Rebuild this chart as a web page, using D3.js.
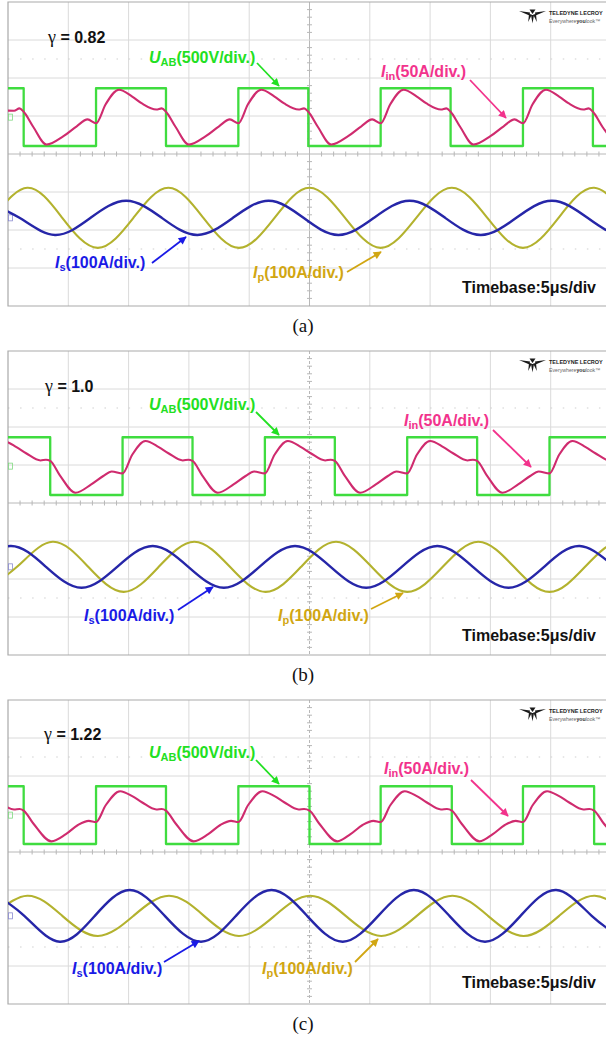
<!DOCTYPE html>
<html>
<head>
<meta charset="utf-8">
<script src="https://cdn.jsdelivr.net/npm/d3@7"></script>
<style>
  html, body { margin: 0; padding: 0; background: #ffffff; }
  svg { display: block; }
</style>
</head>
<body>
<svg id="chart" width="606" height="1040"></svg>
<script>
// ---------------------------------------------------------------
// Measured traces: time in microseconds, U_AB in volts, currents in amperes.
// ---------------------------------------------------------------
const gammaLabels = ["0.82", "1.0", "1.22"];
const captions = ["(a)", "(b)", "(c)"];
const timebaseLabel = "Timebase:5\u03bcs/div";

// U_AB switching instants (level held until the next point)
const uabA = [[-1, 380], [1.3, -380], [7.3, 380], [13.1, -380], [19.1, 380], [24.9, -380], [30.9, 380], [36.7, -380], [42.7, 380], [48.5, -380], [51, -380]];
const uabB = [[-1, 380], [3.5, -380], [9.5, 380], [15.3, -380], [21.3, 380], [27.1, -380], [33.1, 380], [38.9, -380], [44.9, 380], [51, 380]];
const uabC = [[-1, 380], [1.3, -380], [7.3, 380], [13.1, -380], [19.1, 380], [25.0, -380], [30.9, 380], [36.8, -380], [42.7, 380], [48.6, -380], [51, -380]];

// Input current I_in
const iinA = [[-0.8, 9], [0.5, 8.5], [0.95, 11.5], [1.3, 7],
  [2.1, -13], [3.2, -36], [4.6, -25], [5.7, -12], [6.6, -3], [7.3, -8],
  [8.1, 17], [9.2, 36], [10.3, 27], [11.1, 18], [12.3, 10], [12.75, 11.5], [13.1, 7],
  [13.9, -13], [15.0, -36], [16.4, -25], [17.5, -12], [18.4, -3], [19.1, -8],
  [19.9, 17], [21.0, 36], [22.1, 27], [22.9, 18], [24.1, 10], [24.55, 11.5], [24.9, 7],
  [25.7, -13], [26.8, -36], [28.2, -25], [29.3, -12], [30.2, -3], [30.9, -8],
  [31.7, 17], [32.8, 36], [33.9, 27], [34.7, 18], [35.9, 10], [36.35, 11.5], [36.7, 7],
  [37.5, -13], [38.6, -36], [40.0, -25], [41.1, -12], [42.0, -3], [42.7, -8],
  [43.5, 17], [44.6, 36], [45.7, 27], [46.5, 18], [47.7, 10], [48.15, 11.5], [48.5, 7],
  [49.3, -13], [50.4, -36]];
const iinB = [[-2.3, -9.5], [-1.5, 15], [-0.4, 33], [0.7, 25], [1.5, 17], [2.7, 7.5], [3.15, 8.5], [3.5, 7],
  [4.3, -12], [5.6, -35], [6.9, -24], [7.9, -13], [8.6, -7], [9.5, -9.5],
  [10.3, 15], [11.4, 33], [12.5, 25], [13.3, 17], [14.5, 7.5], [14.95, 8.5], [15.3, 7],
  [16.1, -12], [17.4, -35], [18.7, -24], [19.7, -13], [20.4, -7], [21.3, -9.5],
  [22.1, 15], [23.2, 33], [24.3, 25], [25.1, 17], [26.3, 7.5], [26.75, 8.5], [27.1, 7],
  [27.9, -12], [29.2, -35], [30.5, -24], [31.5, -13], [32.2, -7], [33.1, -9.5],
  [33.9, 15], [35.0, 33], [36.1, 25], [36.9, 17], [38.1, 7.5], [38.55, 8.5], [38.9, 7],
  [39.7, -12], [41.0, -35], [42.3, -24], [43.3, -13], [44.0, -7], [44.9, -9.5],
  [45.7, 15], [46.8, 33], [47.9, 25], [48.7, 17], [49.9, 7.5], [50.35, 8.5], [50.7, 7]];
const iinC = [[-0.7, 17], [0.5, 7.5], [0.95, 8], [1.3, 6],
  [2.1, -11], [3.6, -34.5], [4.8, -25], [5.8, -13], [6.7, -7.5], [7.3, -9],
  [8.1, 13], [9.3, 31.5], [10.3, 25], [11.1, 17], [12.3, 7.5], [12.75, 8], [13.1, 6],
  [13.9, -11], [15.4, -34.5], [16.6, -25], [17.6, -13], [18.5, -7.5], [19.1, -9],
  [19.9, 13], [21.1, 31.5], [22.1, 25], [22.9, 17], [24.1, 7.5], [24.55, 8], [25.0, 6],
  [25.8, -11], [27.3, -34.5], [28.4, -25], [29.4, -13], [30.3, -7.5], [30.9, -9],
  [31.7, 13], [32.9, 31.5], [33.9, 25], [34.7, 17], [35.9, 7.5], [36.4, 8], [36.8, 6],
  [37.6, -11], [39.1, -34.5], [40.2, -25], [41.2, -13], [42.1, -7.5], [42.7, -9],
  [43.5, 13], [44.7, 31.5], [45.7, 25], [46.5, 17], [47.7, 7.5], [48.2, 8], [48.6, 6],
  [49.4, -11], [50.9, -34.5]];

// Secondary current I_s (peaks, zero crossings, troughs)
const isA = [[-2.0, 45], [0.95, 0], [3.9, -45], [6.85, 0], [9.8, 45], [12.75, 0], [15.7, -45], [18.65, 0],
  [21.6, 45], [24.5, 0], [27.4, -45], [30.35, 0], [33.3, 45], [36.25, 0], [39.2, -45], [42.15, 0],
  [45.1, 45], [48.05, 0], [51.0, -45], [53.95, 0]];
const isB = [[-5.7, -55], [-2.75, 0], [0.2, 55], [3.15, 0], [6.1, -55], [9.05, 0], [12.0, 55], [14.95, 0],
  [17.9, -55], [20.85, 0], [23.8, 55], [26.75, 0], [29.7, -55], [32.65, 0], [35.6, 55], [38.55, 0],
  [41.5, -55], [44.45, 0], [47.4, 55], [50.35, 0], [53.3, -55]];
const isC = [[-1.6, 68], [1.35, 0], [4.3, -68], [7.2, 0], [10.1, 68], [13.0, 0], [16.0, -68], [18.9, 0],
  [21.85, 68], [24.8, 0], [27.75, -68], [30.7, 0], [33.65, 68], [36.6, 0], [39.55, -68], [42.5, 0],
  [45.45, 68], [48.4, 0], [51.35, -68]];

// Primary current I_p
const ipA = [[-4.3, -79], [-1.35, 0], [1.6, 79], [4.5, 0], [7.45, -79], [10.4, 0], [13.3, 79], [16.2, 0],
  [19.15, -79], [22.1, 0], [25.0, 79], [27.95, 0], [30.9, -79], [33.85, 0], [36.8, 79], [39.75, 0],
  [42.7, -79], [45.65, 0], [48.6, 79], [51.55, 0], [54.5, -79]];
const ipB = [[-2.2, -66], [0.75, 0], [3.7, 66], [6.65, 0], [9.6, -66], [12.5, 0], [15.45, 66], [18.4, 0],
  [21.35, -66], [24.3, 0], [27.2, 66], [30.15, 0], [33.1, -66], [36.05, 0], [39.0, 66], [41.95, 0],
  [44.9, -66], [47.85, 0], [50.8, 66], [53.75, 0]];
const ipC = [[-4.3, -53], [-1.35, 0], [1.6, 53], [4.5, 0], [7.45, -53], [10.4, 0], [13.35, 53], [16.25, 0],
  [19.15, -53], [22.1, 0], [25.05, 53], [28.0, 0], [30.95, -53], [33.9, 0], [36.85, 53], [39.8, 0],
  [42.75, -53], [45.7, 0], [48.65, 53], [51.6, 0], [54.55, -53]];

// Vertical sensitivities (units per division) and channel offsets (divisions)
const uabPerDiv = 500, iinPerDiv = 50, isPerDiv = 100, ipPerDiv = 100;
const upperOffset = 0.97, lowerOffset = -1.68;

// ---------------------------------------------------------------
// Layout
// ---------------------------------------------------------------
const panelTops = [2, 351, 700];
const panelH = 304;           // 8 divisions
const screenLeft = 8, screenRight = 611;   // 10 divisions, right edge runs off the page
const layouts = [
  { gamma: [48, 41], uab: [149, 61], iin: [381, 75], is: [55, 266], ip: [253, 276], tb: [462, 291],
    aUab: [257, 61, 279, 84], aIin: [470, 78, 506, 116], aIs: [152, 261, 186, 235], aIp: [347, 270, 381, 250] },
  { gamma: [45, 41], uab: [149, 59], iin: [404, 75], is: [84, 270], ip: [278, 270], tb: [462, 290],
    aUab: [256, 61, 279, 84], aIin: [493, 79, 531, 116], aIs: [178, 259, 213, 236], aIp: [371, 258, 403, 242] },
  { gamma: [44, 40], uab: [149, 58], iin: [384, 74], is: [72, 274], ip: [262, 274], tb: [462, 288],
    aUab: [256, 60, 279, 84], aIin: [471, 80, 508, 116], aIs: [164, 262, 199, 241], aIp: [355, 262, 378, 239] }
];
const traces = [
  { uab: uabA, iin: iinA, is: isA, ip: ipA },
  { uab: uabB, iin: iinB, is: isB, ip: ipB },
  { uab: uabC, iin: iinC, is: isC, ip: ipC }
];

const col = {
  uabTrace: "#3fdc3f", uabText: "#22e022",
  iinTrace: "#cf2b6e", iinText: "#f2338c",
  isTrace: "#2626a8", isText: "#1a1ae6",
  ipTrace: "#b3b22e", ipText: "#d1a612",
  grid: "#dadada", border: "#a9a9a9", axis: "#b8b8b8"
};

const svg = d3.select("#chart");
const defs = svg.append("defs");
const font = "'Liberation Sans', Arial, Helvetica, sans-serif";
const serif = "'Liberation Serif', 'Times New Roman', serif";

function arrowMarker(id, color) {
  defs.append("marker")
    .attr("id", id).attr("viewBox", "0 0 10 10")
    .attr("refX", 9).attr("refY", 5)
    .attr("markerWidth", 10).attr("markerHeight", 8)
    .attr("markerUnits", "userSpaceOnUse")
    .attr("orient", "auto")
    .append("path").attr("d", "M0,0 L10,5 L0,10 Z").attr("fill", color);
}
arrowMarker("arr-uab", col.uabText);
arrowMarker("arr-iin", col.iinText);
arrowMarker("arr-is", col.isText);
arrowMarker("arr-ip", col.ipText);

const x = d3.scaleLinear().domain([0, 50]).range([screenLeft, screenRight]);

panelTops.forEach((top, p) => {
  const L = layouts[p], T = traces[p];
  const yDiv = d3.scaleLinear().domain([-4, 4]).range([top + panelH, top]);
  const g = svg.append("g").attr("class", "panel-" + p);

  // screen clip
  const clipId = "clip-" + p;
  defs.append("clipPath").attr("id", clipId)
    .append("rect").attr("x", screenLeft).attr("y", top).attr("width", 606 - screenLeft).attr("height", panelH);

  // graticule
  const grid = g.append("g");
  const vDivs = d3.range(1, 10).map(i => i * 5);
  const hDivs = d3.range(-3, 4);
  grid.selectAll("line.v").data(vDivs).join("line")
    .attr("x1", d => x(d)).attr("x2", d => x(d))
    .attr("y1", top).attr("y2", top + panelH)
    .attr("stroke", d => d === 25 ? col.axis : col.grid)
    .attr("stroke-width", 1)
    .attr("stroke-dasharray", d => d === 25 && p > 0 ? "3,2" : null);
  grid.selectAll("line.h").data(hDivs).join("line")
    .attr("x1", screenLeft).attr("x2", 606)
    .attr("y1", d => yDiv(d)).attr("y2", d => yDiv(d))
    .attr("stroke", d => d === 0 ? col.axis : col.grid).attr("stroke-width", 1);
  // dotted half-division rows
  [2.5, -2.5].forEach(v => {
    grid.append("line")
      .attr("x1", screenLeft).attr("x2", 606)
      .attr("y1", yDiv(v)).attr("y2", yDiv(v))
      .attr("stroke", "#cfcfcf").attr("stroke-width", 1.2)
      .attr("stroke-dasharray", "1.5,10.56");
  });
  // minor ticks on the centre axes
  const tMinor = d3.range(1, 50).filter(t => t % 5 !== 0);
  grid.selectAll("line.tx").data(tMinor).join("line")
    .attr("x1", d => x(d)).attr("x2", d => x(d))
    .attr("y1", yDiv(0) - 2.5).attr("y2", yDiv(0) + 2.5)
    .attr("stroke", col.axis).attr("stroke-width", 1);
  const vMinor = d3.range(-19, 20).map(k => k / 5).filter(v => Math.abs(v - Math.round(v)) > 1e-6);
  grid.selectAll("line.ty").data(vMinor).join("line")
    .attr("x1", x(25) - 2.5).attr("x2", x(25) + 2.5)
    .attr("y1", d => yDiv(d)).attr("y2", d => yDiv(d))
    .attr("stroke", col.axis).attr("stroke-width", 1);
  // screen border
  g.append("path")
    .attr("d", `M606,${top} L${screenLeft},${top} L${screenLeft},${top + panelH} L606,${top + panelH}`)
    .attr("fill", "none").attr("stroke", col.border).attr("stroke-width", 1.2);

  // channel ground markers
  g.append("rect").attr("x", screenLeft + 0.5).attr("y", yDiv(upperOffset) - 3)
    .attr("width", 4).attr("height", 6).attr("fill", "none").attr("stroke", "#7fd97f").attr("stroke-width", 0.8);
  g.append("rect").attr("x", screenLeft + 0.5).attr("y", yDiv(lowerOffset) - 3)
    .attr("width", 4).attr("height", 6).attr("fill", "none").attr("stroke", "#8a8ad0").attr("stroke-width", 0.8);

  // traces
  const tr = g.append("g").attr("clip-path", `url(#${clipId})`);
  const lineOf = (perDiv, off, curve) => d3.line()
    .x(d => x(d[0])).y(d => yDiv(d[1] / perDiv + off)).curve(curve);
  tr.append("path").datum(T.uab)
    .attr("d", lineOf(uabPerDiv, upperOffset, d3.curveStepAfter))
    .attr("fill", "none").attr("stroke", col.uabTrace).attr("stroke-width", 2.3).attr("stroke-linejoin", "round");
  tr.append("path").datum(T.iin)
    .attr("d", lineOf(iinPerDiv, upperOffset, d3.curveMonotoneX))
    .attr("fill", "none").attr("stroke", col.iinTrace).attr("stroke-width", 2.1);
  tr.append("path").datum(T.ip)
    .attr("d", lineOf(ipPerDiv, lowerOffset, d3.curveNatural))
    .attr("fill", "none").attr("stroke", col.ipTrace).attr("stroke-width", 2.1);
  tr.append("path").datum(T.is)
    .attr("d", lineOf(isPerDiv, lowerOffset, d3.curveNatural))
    .attr("fill", "none").attr("stroke", col.isTrace).attr("stroke-width", 2.4);

  // annotations
  const txt = (pos, color) => g.append("text")
    .attr("x", pos[0]).attr("y", top + pos[1])
    .attr("font-family", font).attr("font-weight", "bold").attr("font-size", 16)
    .attr("fill", color);

  const gt = txt(L.gamma, "#111");
  gt.append("tspan").attr("font-family", serif).attr("font-weight", "normal").attr("font-size", 18).text("\u03b3");
  gt.append("tspan").text(" = " + gammaLabels[p]);

  function channelLabel(pos, color, main, sub, rest) {
    const t = txt(pos, color);
    t.append("tspan").attr("font-style", "italic").text(main);
    t.append("tspan").attr("font-size", 11).attr("dy", 3).text(sub);
    t.append("tspan").attr("dy", -3).text(rest);
  }
  channelLabel(L.uab, col.uabText, "U", "AB", "(500V/div.)");
  channelLabel(L.iin, col.iinText, "I", "in", "(50A/div.)");
  channelLabel(L.is, col.isText, "I", "s", "(100A/div.)");
  channelLabel(L.ip, col.ipText, "I", "p", "(100A/div.)");
  txt(L.tb, "#111").text(timebaseLabel);

  function arrow(a, color, id) {
    g.append("line")
      .attr("x1", a[0]).attr("y1", top + a[1]).attr("x2", a[2]).attr("y2", top + a[3])
      .attr("stroke", color).attr("stroke-width", 1.8)
      .attr("marker-end", `url(#${id})`);
  }
  arrow(L.aUab, col.uabText, "arr-uab");
  arrow(L.aIin, col.iinText, "arr-iin");
  arrow(L.aIs, col.isText, "arr-is");
  arrow(L.aIp, col.ipText, "arr-ip");

  // instrument badge
  const logo = g.append("g").attr("transform", `translate(519,${top + 7})`);
  const shapes = [
    "M0,2 L11,3.5 L10.5,6.5 Z",
    "M27,2 L16,3.5 L16.5,6.5 Z",
    "M10.5,0.5 L16.5,0.5 L13.5,5 Z",
    "M10,5 L12.8,5.5 L9.2,13 Z",
    "M12,6 L15,6 L13.5,14.5 Z",
    "M14.2,5.5 L17,5 L17.8,13 Z"
  ];
  logo.selectAll("path").data(shapes).join("path").attr("d", d => d).attr("fill", "#1a1a1a");
  g.append("text").attr("x", 549).attr("y", top + 12.5)
    .attr("font-family", font).attr("font-weight", "bold").attr("font-size", 5.5)
    .attr("fill", "#222").text("TELEDYNE LECROY");
  const ev = g.append("text").attr("x", 549).attr("y", top + 20.5)
    .attr("font-family", font).attr("font-size", 5.2)
    .attr("fill", "#666");
  ev.append("tspan").text("Everywhere");
  ev.append("tspan").attr("font-weight", "bold").attr("fill", "#333").text("you");
  ev.append("tspan").text("look\u2122");

  // caption
  svg.append("text")
    .attr("x", 303).attr("y", top + panelH + 26)
    .attr("text-anchor", "middle")
    .attr("font-family", serif)
    .attr("font-size", 19).attr("fill", "#111")
    .text(captions[p]);
});
</script>
</body>
</html>
